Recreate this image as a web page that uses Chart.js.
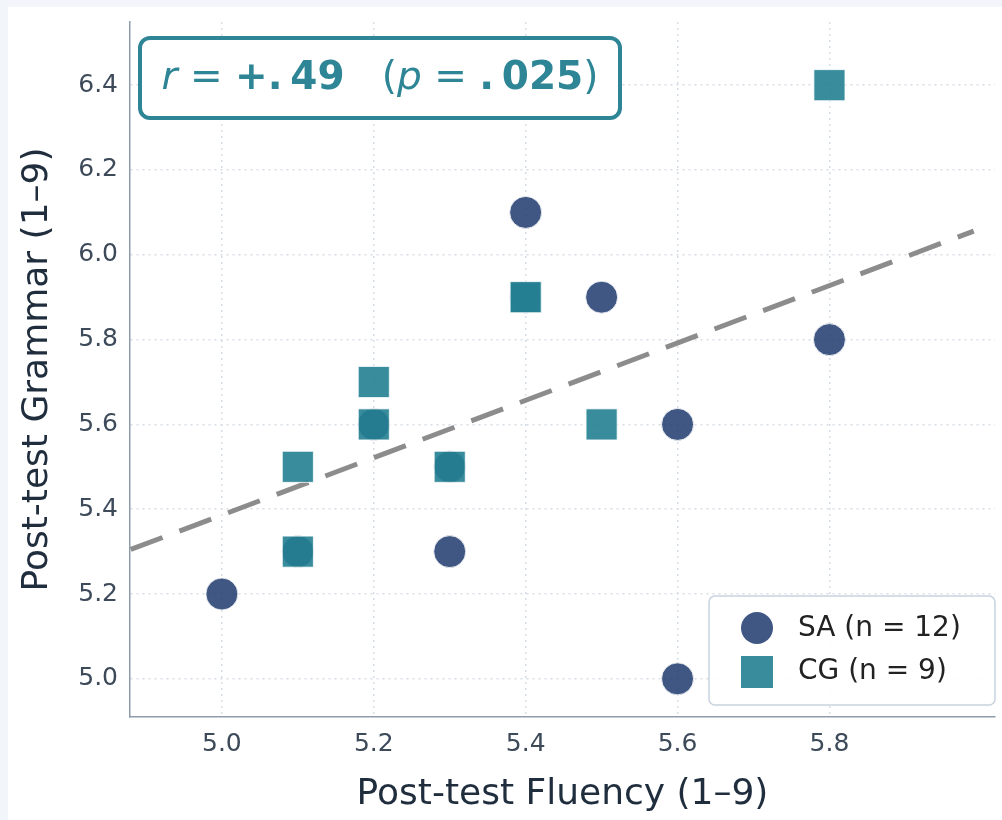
<!DOCTYPE html>
<html>
<head>
<meta charset="utf-8">
<script src="https://cdn.jsdelivr.net/npm/chart.js@4.4.1/dist/chart.umd.min.js"></script>
<style>
  html, body { margin: 0; padding: 0; background: #f2f6fa; }
  #card { position: absolute; left: 8px; top: 7px; width: 994px; height: 813px; background: #fff; }
</style>
</head>
<body>
<div id="card"><canvas id="chart" width="994" height="813"></canvas></div>
<script>
// SA group (circles)
const saFluency = [5.0, 5.1, 5.2, 5.3, 5.3, 5.4, 5.4, 5.4, 5.5, 5.6, 5.6, 5.8];
const saGrammar = [5.2, 5.3, 5.6, 5.5, 5.3, 5.9, 5.9, 6.1, 5.9, 5.6, 5.0, 5.8];
// CG group (squares)
const cgFluency = [5.1, 5.1, 5.2, 5.2, 5.3, 5.4, 5.4, 5.5, 5.8];
const cgGrammar = [5.3, 5.5, 5.6, 5.7, 5.5, 5.9, 5.9, 5.6, 6.4];
// fitted line
const trendX = [4.88, 5.99];
const trendY = [5.305, 6.056];
const xTicks = [5.0, 5.2, 5.4, 5.6, 5.8];
const yTicks = [5.0, 5.2, 5.4, 5.6, 5.8, 6.0, 6.2, 6.4];
const legendLabels = ['SA (n = 12)', 'CG (n = 9)'];

const SA_COLOR = 'rgba(42, 69, 116, 0.9)';
const CG_COLOR = 'rgba(36, 127, 145, 0.9)';
const TEAL = '#2e8595';

const toPoints = (xs, ys) => xs.map((x, i) => ({ x: x, y: ys[i] }));

// r / p box in the top left corner
const statBox = {
  id: 'statBox',
  afterDraw(chart) {
    const ctx = chart.ctx;
    const x = 132, y = 31, w = 480, h = 80;
    ctx.save();
    ctx.beginPath();
    ctx.roundRect(x, y, w, h, 10);
    ctx.fillStyle = '#fff';
    ctx.fill();
    ctx.lineWidth = 4;
    ctx.strokeStyle = TEAL;
    ctx.stroke();
    const f = '"DejaVu Sans"';
    const parts = [
      ['italic 39px ' + f, 'r'],
      ['39px ' + f, ' = '],
      ['bold 39px ' + f, '+.\u200949'],
      ['39px ' + f, '   ('],
      ['italic 39px ' + f, 'p'],
      ['39px ' + f, ' = '],
      ['bold 39px ' + f, '.\u2009025'],
      ['39px ' + f, ')']
    ];
    let total = 0;
    parts.forEach(p => { ctx.font = p[0]; total += ctx.measureText(p[1]).width; });
    let tx = x + (w - total) / 2;
    ctx.fillStyle = TEAL;
    ctx.textBaseline = 'middle';
    parts.forEach(p => {
      ctx.font = p[0];
      ctx.fillText(p[1], tx, y + h / 2 + 1);
      tx += ctx.measureText(p[1]).width;
    });
    ctx.restore();
  }
};

// legend box in the lower right corner
const cornerLegend = {
  id: 'cornerLegend',
  afterDraw(chart) {
    const ctx = chart.ctx;
    const x = 701, y = 589, w = 286, h = 109;
    ctx.save();
    ctx.beginPath();
    ctx.roundRect(x, y, w, h, 6);
    ctx.fillStyle = 'rgba(255,255,255,0.9)';
    ctx.fill();
    ctx.lineWidth = 1.5;
    ctx.strokeStyle = '#c8d2de';
    ctx.stroke();
    ctx.font = '28px "DejaVu Sans"';
    ctx.textBaseline = 'middle';
    ctx.beginPath();
    ctx.arc(749, 621, 16, 0, Math.PI * 2);
    ctx.fillStyle = SA_COLOR;
    ctx.fill();
    ctx.fillStyle = CG_COLOR;
    ctx.fillRect(733, 649, 32, 32);
    ctx.fillStyle = '#222';
    ctx.fillText(legendLabels[0], 790, 622);
    ctx.fillText(legendLabels[1], 790, 665);
    ctx.restore();
  }
};

new Chart(document.getElementById('chart'), {
  type: 'scatter',
  data: {
    datasets: [{
      label: 'trend',
      type: 'line',
      data: toPoints(trendX, trendY),
      borderColor: 'rgba(128,128,128,0.9)',
      borderWidth: 5,
      borderDash: [34, 18],
      pointRadius: 0,
      fill: false,
      order: 3
    }, {
      label: legendLabels[0],
      data: toPoints(saFluency, saGrammar),
      pointStyle: 'circle',
      pointRadius: 16,
      backgroundColor: SA_COLOR,
      borderColor: 'rgba(255,255,255,0.8)',
      borderWidth: 1,
      order: 2
    }, {
      label: legendLabels[1],
      data: toPoints(cgFluency, cgGrammar),
      pointStyle: 'rect',
      pointRadius: 22,
      backgroundColor: CG_COLOR,
      borderColor: 'rgba(255,255,255,0.8)',
      borderWidth: 1,
      order: 1
    }]
  },
  options: {
    responsive: false,
    animation: false,
    layout: { autoPadding: false, padding: { top: 15, right: 7, left: 0, bottom: 0 } },
    plugins: { legend: { display: false }, tooltip: { enabled: false } },
    scales: {
      x: {
        type: 'linear',
        min: 4.879,
        max: 6.018,
        afterFit(s) { s.height = 103; s.paddingLeft = 0; s.paddingRight = 0; },
        afterBuildTicks(s) { s.ticks = xTicks.map(v => ({ value: v })); },
        ticks: {
          callback: v => v.toFixed(1),
          font: { family: 'DejaVu Sans', size: 25 },
          color: '#3d4a5a',
          padding: 12
        },
        grid: { color: '#d6dde7', lineWidth: 1.5, drawTicks: false },
        border: { color: '#8d9bab', width: 1.5, dash: [2, 4] },
        title: {
          display: true,
          text: 'Post-test Fluency (1–9)',
          font: { family: 'DejaVu Sans', size: 36 },
          color: '#1f2d3d',
          padding: { top: 12 }
        }
      },
      y: {
        type: 'linear',
        min: 4.91,
        max: 6.549,
        afterFit(s) { s.width = 122; s.paddingTop = 0; s.paddingBottom = 0; },
        afterBuildTicks(s) { s.ticks = yTicks.map(v => ({ value: v })); },
        ticks: {
          callback: v => v.toFixed(1),
          font: { family: 'DejaVu Sans', size: 25 },
          color: '#3d4a5a',
          padding: 12
        },
        grid: { color: '#d6dde7', lineWidth: 1.5, drawTicks: false },
        border: { color: '#8d9bab', width: 1.5, dash: [2, 4] },
        title: {
          display: true,
          text: 'Post-test Grammar (1–9)',
          font: { family: 'DejaVu Sans', size: 36 },
          color: '#1f2d3d',
          padding: { top: 8, bottom: 10 }
        }
      }
    }
  },
  plugins: [statBox, cornerLegend]
});
</script>
</body>
</html>
